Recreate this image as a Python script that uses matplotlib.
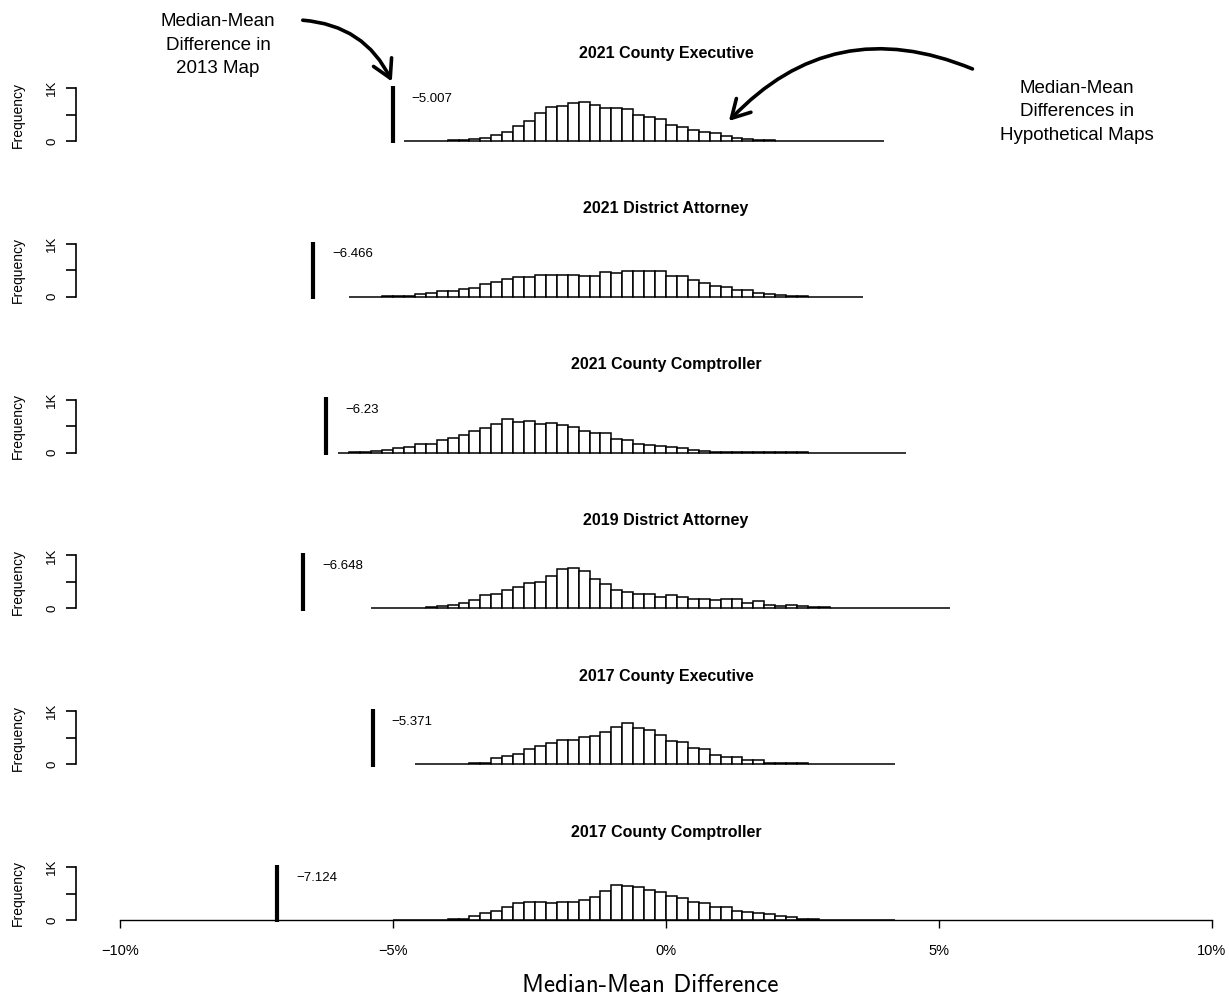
import matplotlib
matplotlib.use("Agg")
import matplotlib.pyplot as plt
from matplotlib.patches import FancyArrowPatch

plt.rcParams['font.family'] = ['Liberation Sans', 'DejaVu Sans']

# panel titles, observed 2013-map values and histogram bins (width 0.2%)
titles = ["2021 County Executive", "2021 District Attorney", "2021 County Comptroller",
          "2019 District Attorney", "2017 County Executive", "2017 County Comptroller"]
observed = [-5.007, -6.466, -6.23, -6.648, -5.371, -7.124]
bin_start = [-4.8, -5.8, -6.0, -5.4, -4.6, -5.0]
bin_width = 0.2

counts_2021_ce = [2, 3, 4, 6, 10, 18, 30, 50, 110, 175, 275, 385, 530, 635, 655, 725, 745, 675,
                  625, 625, 600, 495, 450, 420, 310, 270, 205, 175, 150, 100, 50, 30, 15, 10,
                  8, 6, 4, 3, 2, 2, 1, 1, 1, 1]
counts_2021_da = [1, 2, 3, 15, 18, 22, 45, 75, 110, 100, 145, 175, 250, 285, 340, 365, 365, 405,
                  405, 405, 405, 390, 390, 470, 445, 495, 480, 485, 480, 400, 400, 310, 260, 200,
                  185, 135, 125, 75, 45, 25, 12, 8, 5, 3, 2, 1, 1]
counts_2021_cc = [1, 2, 5, 25, 50, 80, 110, 160, 160, 235, 270, 335, 410, 470, 545, 630, 580, 600,
                  545, 565, 520, 490, 410, 365, 365, 255, 245, 160, 140, 130, 100, 85, 50, 35, 20,
                  15, 10, 8, 6, 4, 3, 2, 2, 1, 1, 1, 1, 0, 1, 1, 1, 0]
counts_2019_da = [1, 2, 3, 5, 10, 20, 45, 65, 110, 150, 250, 265, 345, 400, 470, 495, 610, 740,
                  770, 705, 560, 455, 355, 310, 265, 265, 220, 245, 220, 185, 170, 150, 170, 170,
                  110, 140, 70, 45, 55, 45, 30, 25, 15, 12, 10, 6, 5, 4, 3, 2, 2, 1, 1]
counts_2017_ce = [1, 2, 3, 5, 8, 15, 30, 115, 155, 190, 285, 335, 395, 460, 460, 520, 535, 600,
                  710, 785, 680, 650, 555, 430, 410, 315, 285, 175, 140, 140, 80, 80, 30, 30, 25,
                  30, 12, 8, 6, 4, 3, 2, 1, 1]
counts_2017_cc = [1, 1, 2, 3, 5, 10, 20, 80, 125, 175, 250, 320, 345, 345, 320, 345, 345, 385,
                  430, 540, 655, 635, 620, 575, 525, 460, 415, 335, 320, 250, 240, 165, 160, 125,
                  115, 80, 50, 20, 10, 8, 6, 4, 3, 2, 1, 1]
all_counts = [counts_2021_ce, counts_2021_da, counts_2021_cc,
              counts_2019_da, counts_2017_ce, counts_2017_cc]

x_ticks = [-10, -5, 0, 5, 10]
x_ticklabels = ["\u221210%", "\u22125%", "0%", "5%", "10%"]

W, H = 1229, 998
fig = plt.figure(figsize=(W / 100, H / 100), dpi=100)

px_pct = 54.6          # pixels per 1%
px_unit = 0.053        # pixels per count
xmin, xmax = -10.8, 10.3
ylo, yhi = -150, 1200
left_px = 120 - (-10 - xmin) * px_pct

for i, (title, obs, start, counts) in enumerate(zip(titles, observed, bin_start, all_counts)):
    base = 141 + i * 155.8
    bottom_img = base - ylo * px_unit
    ax = fig.add_axes([left_px / W, (H - bottom_img) / H,
                       (xmax - xmin) * px_pct / W, (yhi - ylo) * px_unit / H])
    ax.set_xlim(xmin, xmax)
    ax.set_ylim(ylo, yhi)
    ax.patch.set_visible(False)
    for s in ["top", "right"]:
        ax.spines[s].set_visible(False)
    ax.spines["left"].set_bounds(0, 1000)
    ax.spines["left"].set_linewidth(1.2)

    edges = [start + k * bin_width for k in range(len(counts))]
    ax.bar(edges, counts, width=bin_width, align="edge", color="white",
           edgecolor="black", linewidth=1.1, zorder=2)
    ax.vlines(obs, -45, 1040, color="black", linewidth=3, zorder=3)
    ax.text(obs + 0.35, 800, str(obs).replace("-", "\u2212"), fontsize=9.5,
            va="center", ha="left")
    ax.text(0, 1660, title, fontsize=11.5, fontweight="bold", ha="center",
            va="center", clip_on=False)

    ax.set_yticks([0, 500, 1000])
    ax.set_yticklabels(["0", "", "1K"], rotation=90, va="center", fontsize=9.5)
    ax.tick_params(axis="y", length=7, width=1.2, pad=6)

    fig.text(18 / W, (H - (base - 500 * px_unit)) / H, "Frequency", rotation=90,
             ha="center", va="center", fontsize=10)

    if i == len(titles) - 1:
        ax.spines["bottom"].set_position(("data", 0))
        ax.spines["bottom"].set_bounds(-10, 10)
        ax.spines["bottom"].set_linewidth(1.0)
        ax.set_xticks(x_ticks)
        ax.set_xticklabels(x_ticklabels, fontsize=10.5)
        ax.tick_params(axis="x", length=6, width=1.0, pad=11)
    else:
        ax.spines["bottom"].set_visible(False)
        ax.set_xticks([])

fig.text(650 / W, (H - 985) / H, "Median-Mean Difference", fontfamily="cmss10",
         fontsize=18, ha="center", va="center")

# annotations
fig.text(218 / W, (H - 45) / H, "Median-Mean\nDifference in\n2013 Map", fontsize=13.5,
         ha="center", va="center", linespacing=1.5)
fig.text(1077 / W, (H - 112) / H, "Median-Mean\nDifferences in\nHypothetical Maps",
         fontsize=13.5, ha="center", va="center", linespacing=1.5)

arrow_kw = dict(transform=fig.transFigure, arrowstyle="->,head_length=0.8,head_width=0.45",
                mutation_scale=16, color="black", linewidth=2.6)
fig.patches.append(FancyArrowPatch((300 / W, (H - 20) / H), (393 / W, (H - 84) / H),
                                   connectionstyle="arc3,rad=-0.3", **arrow_kw))
fig.patches.append(FancyArrowPatch((975 / W, (H - 70) / H), (727 / W, (H - 123) / H),
                                   connectionstyle="arc3,rad=0.35", **arrow_kw))

fig.savefig("out.png", dpi=100)
